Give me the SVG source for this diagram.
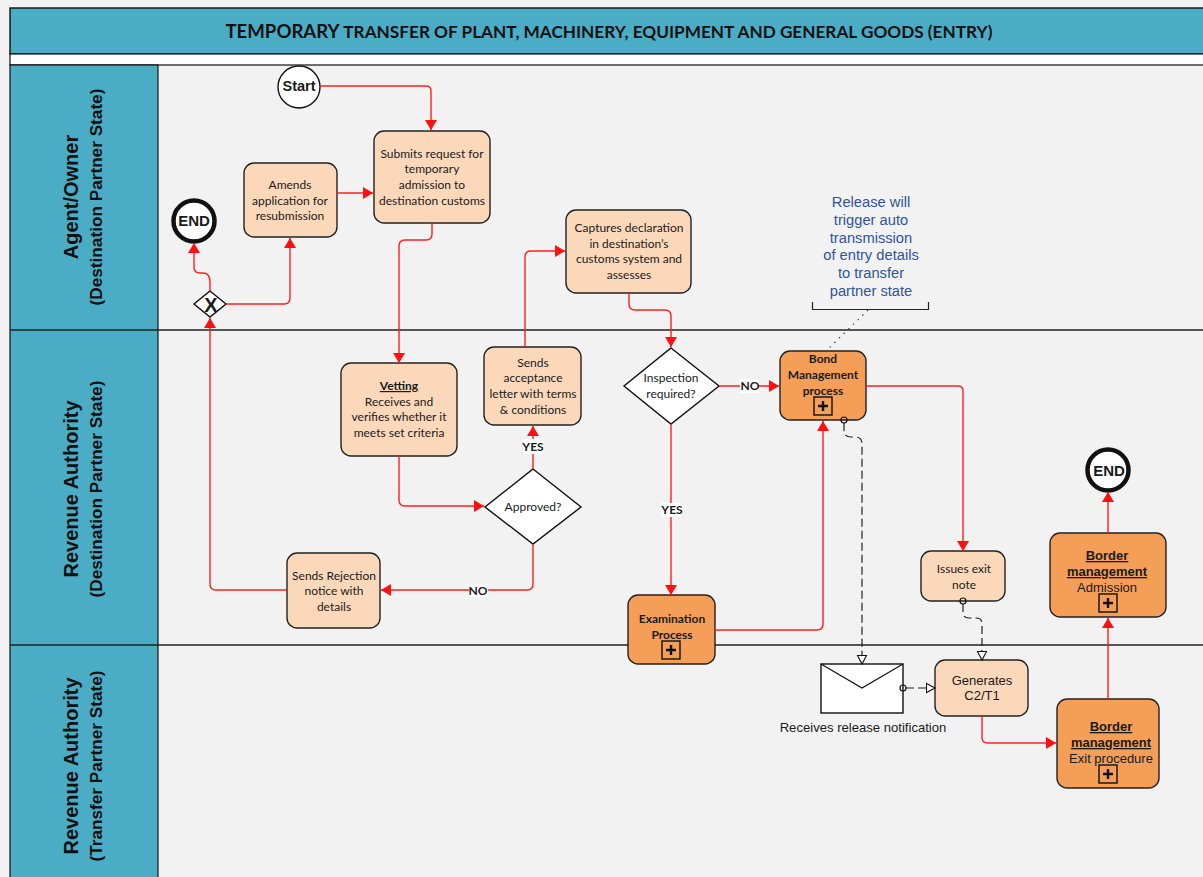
<svg xmlns="http://www.w3.org/2000/svg" width="1203" height="877" viewBox="0 0 1203 877">
<style>
text{font-family:"Lato","Carlito","Liberation Sans",sans-serif;font-size:12px;fill:#1a1a1a;text-anchor:middle}
.a{font-family:"Liberation Sans",Arial,sans-serif;font-size:13px}
.b{font-weight:700}
.u{font-weight:700;text-decoration:underline}
.lane{font-family:"Liberation Sans",Arial,sans-serif;font-size:20px;font-weight:700;fill:#111}
.sub{font-family:"Liberation Sans",Arial,sans-serif;font-size:17.2px;font-weight:700;fill:#111}
.t{fill:#fcd8bb;stroke:#222;stroke-width:1.4}
.p{fill:#f59e58;stroke:#222;stroke-width:1.4}
.w{fill:#fff;stroke:#111;stroke-width:1.4}
.f{fill:none;stroke:#ff1f1f;stroke-width:1.4}
.d{fill:none;stroke:#222;stroke-width:1.2;stroke-dasharray:8 4}
.o{fill:none;stroke:#111;stroke-width:1.2}
.plus{fill:none;stroke:#111;stroke-width:1.4}
.pl{fill:none;stroke:#111;stroke-width:2.4}
.note{font-family:"Liberation Sans",Arial,sans-serif;font-size:14.7px;fill:#2f5597}
.g{fill:#fff;stroke:none}
</style>
<defs>
<marker id="ar" markerUnits="userSpaceOnUse" markerWidth="11" markerHeight="12" refX="10" refY="6" orient="auto"><path d="M0 0L10 6L0 12Z" fill="#ff1010"/></marker>
<marker id="op" markerUnits="userSpaceOnUse" markerWidth="11" markerHeight="12" refX="9.5" refY="6" orient="auto"><path d="M1 1.5L9.5 6L1 10.5Z" fill="#fff" stroke="#111" stroke-width="1.1"/></marker>
</defs>
<rect width="1203" height="877" fill="#f2f2f2"/>
<g id="frame">
<rect x="10" y="8" width="1195" height="46" fill="#4bacc6" stroke="#111" stroke-width="1.4"/>
<rect x="10" y="54" width="1195" height="11" fill="#fff" stroke="#111" stroke-width="1.2"/>
<rect x="10" y="65" width="148" height="815" fill="#4bacc6" stroke="#111" stroke-width="1.2"/>
<path d="M10 330H1203M10 645H1203" stroke="#222" stroke-width="1.4"/>
<text x="609" y="38" class="b" style="font-size:17.2px;fill:#111"><tspan style="font-size:18.6px">TEMPORARY</tspan> TRANSFER OF PLANT, MACHINERY, EQUIPMENT AND GENERAL GOODS (ENTRY)</text>
<g id="lane1"><text class="lane" transform="translate(78 197) rotate(-90)">Agent/Owner</text><text class="sub" transform="translate(102 197) rotate(-90)">(Destination Partner State)</text></g>
<g id="lane2"><text class="lane" transform="translate(78 489) rotate(-90)">Revenue Authority</text><text class="sub" transform="translate(102 489) rotate(-90)">(Destination Partner State)</text></g>
<g id="lane3"><text class="lane" transform="translate(78 766) rotate(-90)">Revenue Authority</text><text class="sub" transform="translate(102 766) rotate(-90)">(Transfer Partner State)</text></g>
</g>
<g id="start"><circle cx="299" cy="87" r="21" class="w" stroke-width="1.8"/><text x="299" y="91" class="a b" style="font-size:14.5px">Start</text></g>
<g id="end1"><circle cx="194" cy="221" r="20.5" fill="#fff" stroke="#111" stroke-width="4.5"/><text x="194" y="226" class="a b" style="font-size:15px">END</text></g>
<g id="gateway"><path d="M210 291L226 304L210 317L194 304Z" class="w"/><text x="211" y="312" class="a b" style="font-size:20px">X</text></g>
<g id="amends"><rect x="244" y="163" width="93" height="74" rx="10" class="t"/><text x="290" y="189">Amends</text><text x="290" y="205">application for</text><text x="290" y="220">resubmission</text></g>
<g id="submits"><rect x="374" y="131" width="116" height="92" rx="10" class="t"/><text x="432" y="158">Submits request for</text><text x="432" y="173">temporary</text><text x="432" y="189">admission to</text><text x="432" y="205">destination customs</text></g>
<g id="captures"><rect x="566" y="210" width="125" height="83" rx="10" class="t"/><text x="629" y="232">Captures declaration</text><text x="629" y="248">in destination’s</text><text x="629" y="263">customs system and</text><text x="629" y="279">assesses</text></g>
<g id="vetting"><rect x="341" y="363" width="116" height="93" rx="10" class="t"/><text x="399" y="390" class="u">Vetting</text><text x="399" y="406">Receives and</text><text x="399" y="421">verifies whether it</text><text x="399" y="437">meets set criteria</text></g>
<g id="sends"><rect x="484" y="347" width="97" height="78" rx="10" class="t"/><text x="533" y="367">Sends</text><text x="533" y="382">acceptance</text><text x="533" y="398">letter with terms</text><text x="533" y="414">&amp; conditions</text></g>
<g id="approved"><path d="M533 469L581 507L533 544L485 507Z" class="w"/><text x="533" y="511">Approved?</text></g>
<g id="rejection"><rect x="287" y="553" width="93" height="75" rx="10" class="t"/><text x="334" y="580">Sends Rejection</text><text x="334" y="595">notice with</text><text x="334" y="611">details</text></g>
<g id="inspection"><path d="M671 348L719 386L671 424L624 386Z" class="w"/><text x="671" y="382">Inspection</text><text x="671" y="398">required?</text></g>
<g id="bond"><rect x="780" y="351" width="86" height="69" rx="10" class="p"/><text x="823" y="363" class="b">Bond</text><text x="823" y="379" class="b">Management</text><text x="823" y="395" class="b">process</text><rect x="814" y="397" width="18" height="18" class="plus"/><path class="pl" d="M818 406H828M823 401V411"/></g>
<g id="exam"><rect x="628" y="595" width="87" height="69" rx="10" class="p"/><text x="672" y="623" class="b">Examination</text><text x="672" y="639" class="b">Process</text><rect x="662" y="641" width="18" height="18" class="plus"/><path class="pl" d="M666 650H676M671 645V655"/></g>
<g id="issues"><rect x="921" y="551" width="84" height="50" rx="10" class="t"/><text x="964" y="573">Issues exit</text><text x="964" y="589">note</text></g>
<g id="generates"><rect x="935" y="660" width="93" height="56" rx="10" class="t"/><text x="982" y="685" class="a">Generates</text><text x="982" y="700" class="a">C2/T1</text></g>
<g id="envelope"><rect x="821" y="664" width="82" height="49" class="w" stroke-width="1"/><path d="M821 664L862 688L903 664" fill="none" stroke="#111" stroke-width="1.2"/><text x="863" y="732" class="a" style="font-size:13.1px">Receives release notification</text></g>
<g id="admission"><rect x="1050" y="533" width="116" height="84" rx="10" class="p"/><text x="1107" y="560" class="a u">Border</text><text x="1107" y="576" class="a u">management</text><text x="1107" y="592" class="a">Admission</text><rect x="1099" y="594" width="18" height="18" class="plus"/><path class="pl" d="M1103 603H1113M1108 598V608"/></g>
<g id="exitproc"><rect x="1057" y="699" width="102" height="89" rx="10" class="p"/><text x="1111" y="731" class="a u">Border</text><text x="1111" y="747" class="a u">management</text><text x="1111" y="763" class="a">Exit procedure</text><rect x="1099" y="765" width="18" height="18" class="plus"/><path class="pl" d="M1103 774H1113M1108 769V779"/></g>
<g id="end2"><circle cx="1108" cy="470" r="20.5" fill="#fff" stroke="#111" stroke-width="4.5"/><text x="1109" y="476" class="a b" style="font-size:15px">END</text></g>
<g id="note"><text class="note" x="871" y="207">Release will</text><text class="note" x="871" y="225">trigger auto</text><text class="note" x="871" y="243">transmission</text><text class="note" x="871" y="260">of entry details</text><text class="note" x="871" y="278">to transfer</text><text class="note" x="871" y="296">partner state</text><path d="M812.5 302V309.5H928.5V302" fill="none" stroke="#222" stroke-width="1.2"/></g>
<g id="connectors">
<path class="f" d="M320 86H426Q431 86 431 91V130" marker-end="url(#ar)"/>
<path class="f" d="M337 193H373" marker-end="url(#ar)"/>
<path class="f" d="M432 223V234Q432 240 426 240H405Q399 240 399 246V363" marker-end="url(#ar)"/>
<path class="f" d="M226 304H284Q290 304 290 298V238" marker-end="url(#ar)"/>
<path class="f" d="M210 291V282Q210 273 203 273H200Q194 273 194 267V243" marker-end="url(#ar)"/>
<path class="f" d="M287 590H216Q210 590 210 584V318" marker-end="url(#ar)"/>
<path class="f" d="M399 456V500Q399 506 405 506H484" marker-end="url(#ar)"/>
<path class="f" d="M533 544V584Q533 590 527 590H381" marker-end="url(#ar)"/>
<path class="f" d="M533 469V426" marker-end="url(#ar)"/>
<path class="f" d="M525 347V257Q525 251 531 251H565" marker-end="url(#ar)"/>
<path class="f" d="M629 293V304Q629 310 635 310H665Q671 310 671 316V347" marker-end="url(#ar)"/>
<path class="f" d="M719 386H779" marker-end="url(#ar)"/>
<path class="f" d="M671 424V595" marker-end="url(#ar)"/>
<path class="f" d="M715 630H817Q823 630 823 624V421" marker-end="url(#ar)"/>
<path class="f" d="M866 386H958Q963 386 963 391V551" marker-end="url(#ar)"/>
<path class="f" d="M982 716V738Q982 743 988 743H1056" marker-end="url(#ar)"/>
<path class="f" d="M1108 699V618" marker-end="url(#ar)"/>
<path class="f" d="M1108 533V492" marker-end="url(#ar)"/>
<path class="d" d="M844 423V430Q844 437 851 437H855Q862 437 862 444V664" marker-end="url(#op)"/>
<path class="d" d="M963 604V612Q963 618 969 618H976Q982 618 982 624V660" marker-end="url(#op)"/>
<path class="d" d="M906 688H935" marker-end="url(#op)"/>
<circle class="o" cx="844" cy="420" r="3"/><circle class="o" cx="963" cy="601" r="3"/><circle class="o" cx="903" cy="688" r="3"/>
<path d="M868 310L825 352" fill="none" stroke="#444" stroke-width="1.2" stroke-dasharray="1.5 5"/>
</g>
<g id="labels">
<rect x="523" y="439" width="21" height="15" class="g"/><text x="533" y="451" class="b">YES</text>
<rect x="469" y="584" width="19" height="13" class="g"/><text x="478" y="595" class="b">NO</text>
<rect x="740" y="379" width="19" height="14" class="g"/><text x="750" y="390" class="b">NO</text>
<rect x="661" y="503" width="21" height="14" class="g"/><text x="672" y="514" class="b">YES</text>
</g>
</svg>
